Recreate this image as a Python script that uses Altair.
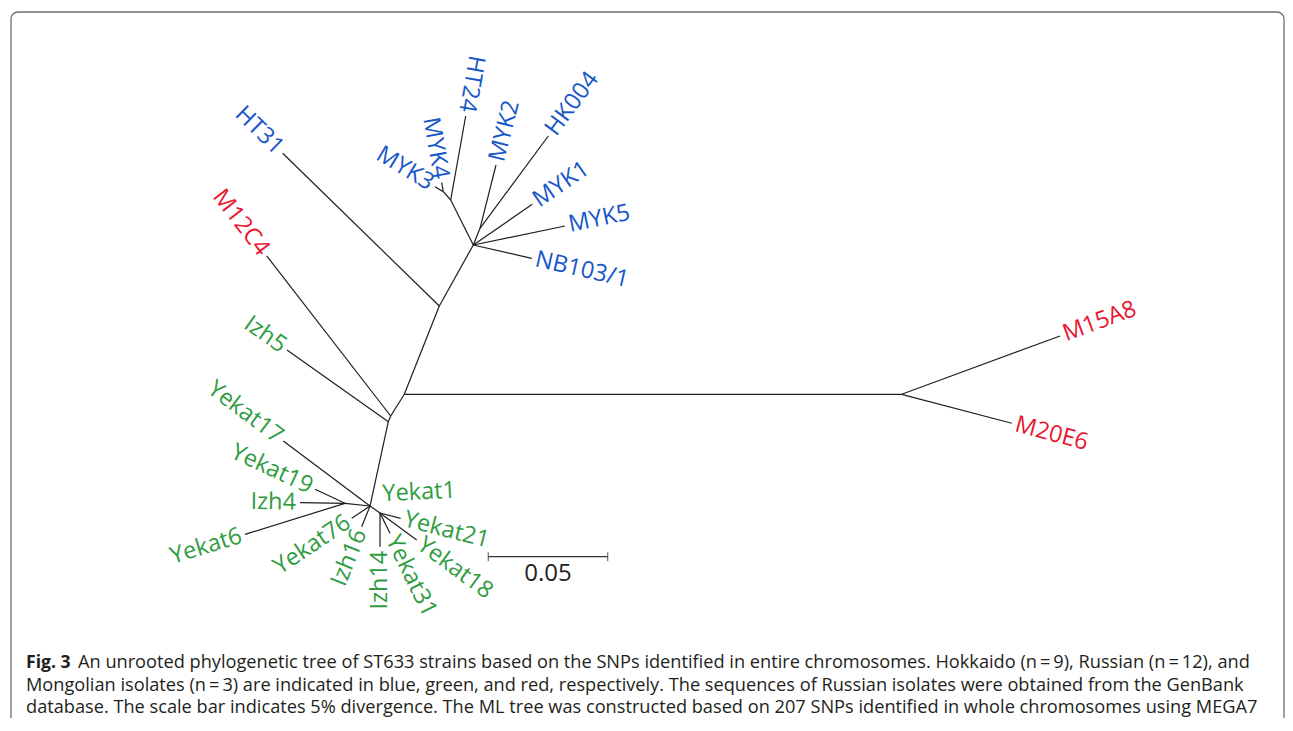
import math
import altair as alt
import pandas as pd

# ---------------- data (branch lengths in substitutions/site) ----------------
tip_names = ["HT31", "HT24", "MYK4", "MYK3", "MYK2", "HK004", "MYK1", "MYK5", "NB103/1",
             "M15A8", "M20E6", "M12C4",
             "Izh5", "Yekat17", "Yekat19", "Izh4", "Yekat6", "Yekat76", "Izh16", "Izh14",
             "Yekat31", "Yekat18", "Yekat21", "Yekat1"]
tip_region = ["Hokkaido"] * 9 + ["Mongolia"] * 3 + ["Russia"] * 12
tip_parent = ["H1", "H3", "H4", "H4", "H5", "H5", "H2", "H2", "H2",
              "MG", "MG", "N1",
              "N2", "R1", "S1", "S1", "S1", "R1", "R1", "S2", "S2", "S2", "S2", "R1"]
tip_x = [-0.05092, 0.02571, 0.01566, 0.01286, 0.03840, 0.06030, 0.05360, 0.06730, 0.05335,
         0.27459, 0.25436, -0.05762,
         -0.04912, -0.05067, -0.03740, -0.04368, -0.06671, -0.02203, -0.01784, -0.01018,
         -0.00599, 0.00519, -0.00151, -0.01436]
tip_y = [0.10092, 0.11654, 0.08861, 0.08694, 0.09602, 0.10817, 0.07956, 0.07048, 0.05695,
         0.02441, -0.01214, 0.05792,
         0.01855, -0.01956, -0.03978, -0.04539, -0.05863, -0.05193, -0.05544, -0.06382,
         -0.05821, -0.06101, -0.05193, -0.04678]

inner_names = ["R", "H1", "H2", "H3", "H4", "H5", "MG", "N1", "N2", "R1", "S1", "S2"]
inner_parent = [None, "R", "H1", "H2", "H3", "H2", "R", "R", "N1", "N2", "R1", "R1"]
inner_x = [0.0, 0.01466, 0.02889, 0.01943, 0.01633, 0.03170, 0.20829, -0.00570, -0.00670,
           -0.01436, -0.02483, -0.01018]
inner_y = [0.0, 0.03698, 0.06252, 0.08137, 0.08484, 0.06952, 0.0, -0.00909, -0.01147,
           -0.04678, -0.04565, -0.04971]

flip_override = ["HT24"]
scale_bar_len = 0.05
scale_bar_x = 0.035176
scale_bar_y = -0.068007

caption_fig = "Fig. 3"
caption_1 = ("An unrooted phylogenetic tree of ST633 strains based on the SNPs identified in entire "
             "chromosomes. Hokkaido (n\u2009=\u20099), Russian (n\u2009=\u200912), and")
caption_2 = ("Mongolian isolates (n\u2009=\u20093) are indicated in blue, green, and red, respectively. "
             "The sequences of Russian isolates were obtained from the GenBank")
caption_3 = ("database. The scale bar indicates 5% divergence. The ML tree was constructed based on "
             "207 SNPs identified in whole chromosomes using MEGA7")

# ---------------- layout ----------------
W, H = 1277, 710
PX = 119.4 / scale_bar_len          # pixels per unit divergence
ORIGIN_PX = (404.3 - 8, 394.3 - 8)  # position of root in chart pixels
xmin = -ORIGIN_PX[0] / PX
xmax = xmin + W / PX
ymax = ORIGIN_PX[1] / PX
ymin = ymax - H / PX

xs = alt.Scale(domain=[xmin, xmax], nice=False, zero=False)
ys = alt.Scale(domain=[ymin, ymax], nice=False, zero=False)

pos = {n: (x, y) for n, x, y in zip(inner_names, inner_x, inner_y)}
pos.update({n: (x, y) for n, x, y in zip(tip_names, tip_x, tip_y)})

edges = []
for n, p in list(zip(inner_names, inner_parent)) + list(zip(tip_names, tip_parent)):
    if p is None:
        continue
    edges.append({"x": pos[n][0], "y": pos[n][1], "x2": pos[p][0], "y2": pos[p][1]})
edges = pd.DataFrame(edges)

labels = []
for n, p, r in zip(tip_names, tip_parent, tip_region):
    dx = pos[n][0] - pos[p][0]
    dy = pos[n][1] - pos[p][1]
    if abs(dx) + abs(dy) < 1e-9:
        continue
    ang = math.degrees(math.atan2(-dy, dx))
    side = "left"
    if ang >= 89.5 or ang < -90 or n in flip_override:
        ang = ang + 180
        if ang > 180:
            ang -= 360
        side = "right"
    labels.append({"name": n, "x": pos[n][0], "y": pos[n][1], "angle": ang,
                   "side": side, "region": r})
labels = pd.DataFrame(labels)
zero_tips = pd.DataFrame([{"name": n, "x": pos[n][0], "y": pos[n][1], "region": r}
                          for n, p, r in zip(tip_names, tip_parent, tip_region)
                          if abs(pos[n][0] - pos[p][0]) + abs(pos[n][1] - pos[p][1]) < 1e-9])

color = alt.Color("region:N", legend=None,
                  scale=alt.Scale(domain=["Hokkaido", "Russia", "Mongolia"],
                                  range=["#1756c8", "#2f9c3f", "#e8162f"]))

FONT = "Open Sans"
LSIZE = 23.5

frame = alt.Chart(pd.DataFrame({"a": [0]})).mark_rect(
    fill="transparent", stroke="#6f6f6f", strokeWidth=1.3, cornerRadius=7
).encode(x=alt.value(3), x2=alt.value(W - 1), y=alt.value(4), y2=alt.value(H + 40))

branches = alt.Chart(edges).mark_rule(color="#1e1e1e", strokeWidth=1.2).encode(
    x=alt.X("x:Q", scale=xs, axis=None), y=alt.Y("y:Q", scale=ys, axis=None),
    x2="x2:Q", y2="y2:Q")

lab_left = alt.Chart(labels[labels.side == "left"]).mark_text(
    align="left", baseline="middle", dx=4, font=FONT, fontSize=LSIZE
).encode(x=alt.X("x:Q", scale=xs), y=alt.Y("y:Q", scale=ys), text="name:N",
         angle=alt.Angle("angle:Q", scale=None), color=color)

lab_right = alt.Chart(labels[labels.side == "right"]).mark_text(
    align="right", baseline="middle", dx=-4, font=FONT, fontSize=LSIZE
).encode(x=alt.X("x:Q", scale=xs), y=alt.Y("y:Q", scale=ys), text="name:N",
         angle=alt.Angle("angle:Q", scale=None), color=color)

lab_zero = alt.Chart(zero_tips).mark_text(
    align="left", baseline="middle", dx=13, dy=-11, angle=357, font=FONT, fontSize=LSIZE
).encode(x=alt.X("x:Q", scale=xs), y=alt.Y("y:Q", scale=ys), text="name:N", color=color)

sb = pd.DataFrame({"x": [scale_bar_x], "x2": [scale_bar_x + scale_bar_len],
                   "y": [scale_bar_y], "xm": [scale_bar_x + scale_bar_len / 2],
                   "t": [f"{scale_bar_len:.2f}"]})
sb_ends = pd.DataFrame({"x": [scale_bar_x, scale_bar_x + scale_bar_len],
                        "y": [scale_bar_y, scale_bar_y]})
sb_rule = alt.Chart(sb).mark_rule(color="#333", strokeWidth=1.2).encode(
    x=alt.X("x:Q", scale=xs), x2="x2:Q", y=alt.Y("y:Q", scale=ys))
sb_ticks = alt.Chart(sb_ends).mark_tick(color="#333", thickness=1.2, size=9, orient="vertical").encode(
    x=alt.X("x:Q", scale=xs), y=alt.Y("y:Q", scale=ys))
sb_text = alt.Chart(sb).mark_text(font=FONT, fontSize=24, color="#222", baseline="middle", dy=17).encode(
    x=alt.X("xm:Q", scale=xs), y=alt.Y("y:Q", scale=ys), text="t:N")

cap_df = pd.DataFrame({"a": [0]})
def cap(text, x, y, bold=False, size=18.2):
    return alt.Chart(cap_df).mark_text(
        text=text, align="left", baseline="middle", font=FONT, fontSize=size,
        fontWeight="bold" if bold else "normal", color="#231f20"
    ).encode(x=alt.value(x), y=alt.value(y))

chart = alt.layer(
    frame, branches, lab_left, lab_right, lab_zero, sb_rule, sb_ticks, sb_text,
    cap(caption_fig, 18, 655, True, 17.6), cap(caption_1, 70, 655),
    cap(caption_2, 18, 678), cap(caption_3, 18, 700)
).properties(
    width=W, height=H, padding=0, autosize=alt.AutoSizeParams(type="none")
).configure_view(stroke=None)

chart.save("out.html", embed_options={"renderer": "svg", "actions": False})
